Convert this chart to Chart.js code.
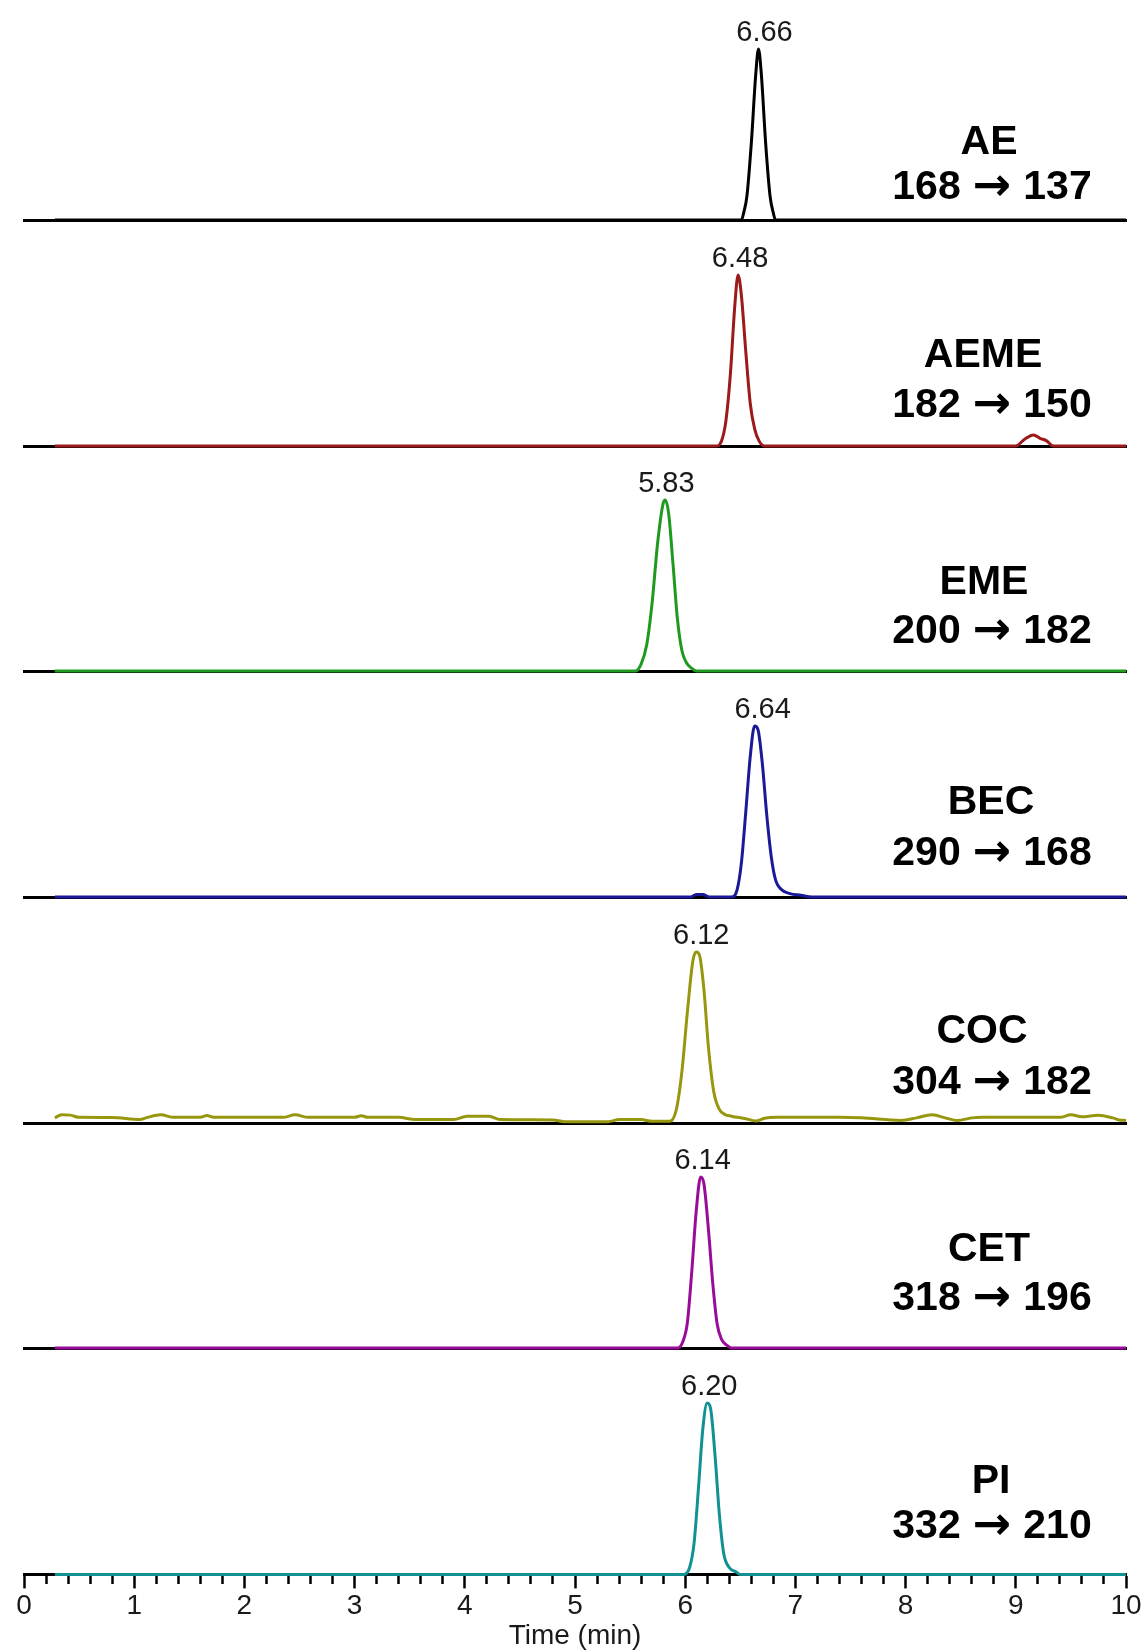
<!DOCTYPE html>
<html>
<head>
<meta charset="utf-8">
<script src="https://cdn.jsdelivr.net/npm/chart.js@4.4.0/dist/chart.umd.min.js"></script>
<style>
    body {
        margin: 0;
        background: #ffffff;
        width: 1143px;
        height: 1650px;
        position: relative;
        overflow: hidden;
    }
    canvas {
        position: absolute;
        left: 0;
    }
</style>
</head>
<body>
<script>
// ---- data (time in min, signal in % of peak) ----
const compounds = ['AE', 'AEME', 'EME', 'BEC', 'COC', 'CET', 'PI'];
const precursorIons = ['168', '182', '200', '290', '304', '318', '332'];
const productIons = ['137', '150', '182', '168', '182', '196', '210'];
const retentionLabels = ['6.66', '6.48', '5.83', '6.64', '6.12', '6.14', '6.20'];
const xTicksMajor = [0, 1, 2, 3, 4, 5, 6, 7, 8, 9, 10];

const aeTime = [0.28, 6.51, 6.53, 6.56, 6.60, 6.64, 6.665, 6.69, 6.73, 6.77, 6.80, 6.82, 10];
const aeSignal = [0, 0, 4, 14, 45, 85, 100, 86, 45, 14, 4, 0, 0];

const aemeTime = [0.28, 6.28, 6.33, 6.37, 6.41, 6.45, 6.48, 6.51, 6.55, 6.59, 6.63, 6.67, 6.72,
    9.00, 9.08, 9.16, 9.22, 9.28, 9.34, 10];
const aemeSignal = [0, 0, 3, 15, 42, 82, 100, 88, 55, 25, 10, 3, 0,
    0, 4, 6.5, 4.5, 3, 0, 0];

const emeTime = [0.28, 5.55, 5.60, 5.65, 5.70, 5.75, 5.80, 5.82, 5.85, 5.89, 5.93, 5.97, 6.01, 6.06, 6.10, 10];
const emeSignal = [0, 0, 4, 15, 40, 75, 98, 100, 92, 62, 30, 12, 5, 1.5, 0, 0];

const becTime = [0.28, 6.05, 6.10, 6.16, 6.22, 6.42, 6.47, 6.51, 6.55, 6.59, 6.63, 6.66, 6.70,
    6.74, 6.78, 6.82, 6.88, 6.95, 7.05, 7.15, 10];
const becSignal = [0, 0, 1.5, 1.5, 0, 0, 4, 20, 50, 82, 100, 98, 78,
    48, 24, 10, 4, 2, 1, 0, 0];

const cocTime = [0.28, 0.34, 0.42, 0.50, 0.80, 1.05, 1.12, 1.24, 1.36, 1.60, 1.66, 1.72, 2.35, 2.46,
    2.58, 3.00, 3.06, 3.12, 3.40, 3.55, 3.90, 4.02, 4.22, 4.32, 4.80, 4.90, 5.30, 5.40, 5.60, 5.70,
    5.86, 5.92, 5.97, 6.02, 6.07, 6.10, 6.13, 6.17, 6.21, 6.26, 6.31, 6.36, 6.42, 6.55, 6.64, 6.72,
    6.82, 7.40, 7.60, 7.96, 8.10, 8.24, 8.36, 8.47, 8.60, 8.70, 9.16, 9.40, 9.50, 9.60, 9.75, 9.88,
    9.94, 10.0];
const cocSignal = [3.0, 4.8, 4.6, 3.3, 3.2, 2.0, 3.3, 4.8, 3.3, 3.3, 4.4, 3.3, 3.3, 4.8,
    3.3, 3.3, 4.3, 3.3, 3.3, 2.0, 2.0, 4.0, 4.0, 2.0, 1.8, 0.8, 0.8, 2.0, 2.0, 1.0,
    1.0, 8, 30, 65, 95, 100, 98, 78, 45, 18, 8, 5, 4, 2.5, 1.2, 2.8,
    3.3, 3.3, 3.0, 1.5, 3.0, 4.8, 3.0, 1.5, 3.0, 3.3, 3.3, 3.3, 4.8, 3.6, 4.6, 3.0,
    1.8, 1.5];

const cetTime = [0.28, 5.93, 5.98, 6.02, 6.06, 6.10, 6.14, 6.17, 6.21, 6.25, 6.29, 6.33, 6.38, 6.42, 10];
const cetSignal = [0, 0, 4, 15, 45, 80, 100, 96, 70, 38, 14, 5, 1.5, 0, 0];

const piTime = [0.28, 5.99, 6.04, 6.08, 6.12, 6.16, 6.20, 6.23, 6.27, 6.31, 6.35, 6.40, 6.46, 6.50, 10];
const piSignal = [0, 0, 4, 18, 50, 85, 100, 97, 70, 35, 12, 4, 1.5, 0, 0];

const seriesTimes = [aeTime, aemeTime, emeTime, becTime, cocTime, cetTime, piTime];
const seriesSignals = [aeSignal, aemeSignal, emeSignal, becSignal, cocSignal, cetSignal, piSignal];

// ---- styling / layout ----
const colors = ['#000000', '#9c1a1a', '#1f9a1f', '#1a1a99', '#97970f', '#990c99', '#119191'];
const baselines = [220, 446, 671, 897, 1123, 1348, 1574];
const plotHeight = 206;   // px from baseline to top of plot area
const peakPx = 171;       // px height of a 100% peak
const nameX = [989, 983, 984, 991, 982, 989, 991];
const nameDy = [-77, -90, -88, -94, -91, -98, -93];
const transDy = [-36, -44, -43, -47, -44, -53, -51];
const peakLabelDx = [6, 2, 1, 8, 5, 2, 2];
const FONT = '"Liberation Sans", Arial, sans-serif';

const panelText = {
    id: 'panelText',
    afterDatasetsDraw(chart, args, opts) {
        const ctx = chart.ctx;
        const base = chart.scales.y.getPixelForValue(0);
        const sig = opts.signal;
        let k = 0;
        sig.forEach((v, i) => { if (v > sig[k]) k = i; });
        const pt = chart.getDatasetMeta(0).data[k];
        ctx.save();
        ctx.fillStyle = '#1a1a1a';
        ctx.textAlign = 'center';
        ctx.textBaseline = 'alphabetic';
        ctx.font = '29px ' + FONT;
        ctx.fillText(opts.peakText, pt.x + opts.labelDx, pt.y - 8);

        ctx.fillStyle = '#000';
        ctx.textBaseline = 'middle';
        ctx.font = 'bold 41px ' + FONT;
        ctx.fillText(opts.name, opts.nameX, base + opts.nameDy);

        // "168 -> 137" : numbers and a heavier arrow, centred as one line
        ctx.textAlign = 'left';
        ctx.textBaseline = 'alphabetic';
        const numFont = 'bold 41px ' + FONT;
        const arrowFont = 'bold 46px "DejaVu Sans", sans-serif';
        ctx.font = numFont;
        const w1 = ctx.measureText(opts.from).width;
        const w2 = ctx.measureText(opts.to).width;
        ctx.font = arrowFont;
        const wa = ctx.measureText('\u2192').width;
        const gap = 12;
        const total = w1 + gap + wa + gap + w2;
        let x = 992 - total / 2;
        const yb = base + opts.transDy + 15;
        ctx.font = numFont;
        ctx.fillText(opts.from, x, yb);
        x += w1 + gap;
        ctx.font = arrowFont;
        ctx.fillText('\u2192', x, yb + 1);
        x += wa + gap;
        ctx.font = numFont;
        ctx.fillText(opts.to, x, yb);
        ctx.restore();
    }
};

const isMajor = (v) => Math.abs(v - Math.round(v)) < 1e-6 && xTicksMajor.includes(Math.round(v));

compounds.forEach((name, i) => {
    const last = i === compounds.length - 1;
    const canvas = document.createElement('canvas');
    const top = baselines[i] - plotHeight;
    const height = last ? 1650 - top : plotHeight + 6;
    canvas.width = 1143;
    canvas.height = height;
    canvas.style.top = top + 'px';
    document.body.appendChild(canvas);

    const points = seriesTimes[i].map((t, j) => ({x: t, y: seriesSignals[i][j]}));

    const xAxis = last ? {
        type: 'linear',
        min: 0,
        max: 10,
        border: {display: true, color: '#000', width: 3},
        grid: {
            display: true,
            drawOnChartArea: false,
            drawTicks: true,
            tickLength: 14,
            tickWidth: 2.5,
            tickColor: '#000',
            // minor ticks every 0.2 min are drawn shorter than the whole minutes
            tickBorderDash: (c) => (c.tick && isMajor(c.tick.value)) ? [] : [8, 40],
        },
        ticks: {
            stepSize: 0.2,
            autoSkip: false,
            maxRotation: 0,
            padding: 1,
            color: '#1a1a1a',
            font: {size: 28, family: FONT},
            callback: (v) => isMajor(v) ? String(Math.round(v)) : '',
        },
        title: {
            display: true,
            text: 'Time (min)',
            color: '#1a1a1a',
            font: {size: 28, family: FONT, lineHeight: 1},
            padding: {top: -2, bottom: 0},
        },
    } : {
        type: 'linear',
        min: 0,
        max: 10,
        border: {display: true, color: '#000', width: 3},
        grid: {display: false, drawTicks: false},
        ticks: {display: false},
    };

    new Chart(canvas, {
        type: 'line',
        data: {
            datasets: [{
                data: points,
                borderColor: colors[i],
                borderWidth: 3,
                pointRadius: 0,
                cubicInterpolationMode: 'monotone',
                fill: false,
                clip: 8,
            }]
        },
        options: {
            responsive: false,
            animation: false,
            events: [],
            layout: {padding: {left: 24, right: 17, top: 0, bottom: last ? 0 : 6}},
            scales: {
                x: xAxis,
                y: {display: false, min: 0, max: 100 * plotHeight / peakPx},
            },
            plugins: {
                legend: {display: false},
                tooltip: {enabled: false},
                panelText: {
                    signal: seriesSignals[i],
                    peakText: retentionLabels[i],
                    labelDx: peakLabelDx[i],
                    name: name,
                    nameX: nameX[i],
                    nameDy: nameDy[i],
                    from: precursorIons[i],
                    to: productIons[i],
                    transDy: transDy[i],
                },
            },
        },
        plugins: [panelText],
    });
});
</script>
</body>
</html>
